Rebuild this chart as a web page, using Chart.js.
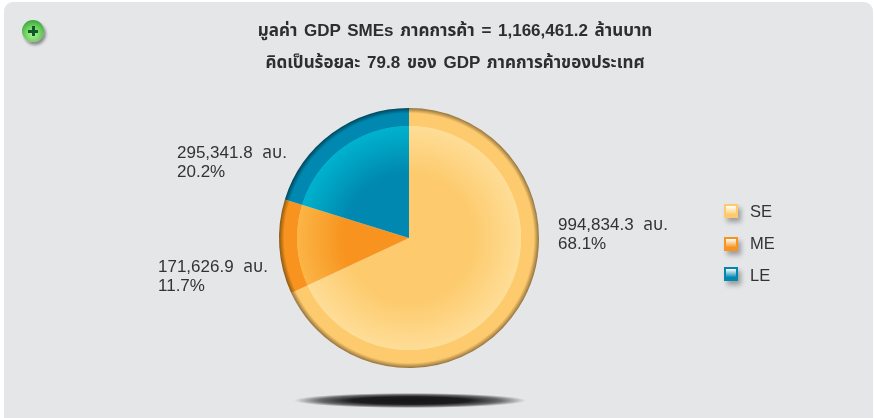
<!DOCTYPE html>
<html lang="th"><head><meta charset="utf-8">
<script src="https://cdn.jsdelivr.net/npm/chart.js@4"></script>
<style>
html,body{margin:0;padding:0;background:#fff;width:874px;height:418px;overflow:hidden}
body{position:relative;font-family:"Liberation Sans","Noto Sans Thai","Noto Sans",sans-serif;color:#333}
#panel{position:absolute;left:4px;top:2px;width:869px;height:440px;background:#e5e6e8;border-radius:9px}
canvas{position:absolute;left:0;top:0}
.t{position:absolute;white-space:nowrap}
.title{font-weight:bold;font-size:17px;word-spacing:2px;line-height:20px;left:155px;width:600px;text-align:center;color:#2e2e2e}
.val{font-size:17px;word-spacing:5px;line-height:19px;color:#333}
.leg{font-size:16.5px;line-height:20px;left:750px;color:#333}
.sw{position:absolute;left:724px;width:10px;height:10px;border:2px solid;box-shadow:3px 4px 5px rgba(0,0,0,.32)}
#shadow{position:absolute;left:294px;top:393px;width:232px;height:15px;background:radial-gradient(closest-side,#151515 0%,#1c1c1e 50%,rgba(40,40,42,.65) 78%,rgba(90,90,90,0) 100%)}
#plus{position:absolute;left:22px;top:20px;width:22px;height:22px;border-radius:50%;background:radial-gradient(circle at 50% 65%,#b5f09c 0%,#6fcf60 45%,#38a53c 80%,#237f2c 100%);box-shadow:2px 3px 3px rgba(0,0,0,.4)}
#plus:before{content:"";position:absolute;left:6px;top:9.5px;width:10px;height:3px;background:#0b5a2a}
#plus:after{content:"";position:absolute;left:9.5px;top:6px;width:3px;height:10px;background:#0b5a2a}
</style></head><body>
<div id="panel"></div>
<div id="shadow"></div>
<canvas id="c" width="874" height="418"></canvas>
<div id="plus"></div>
<div id="texts"></div>
<script>
const titleLines = ["มูลค่า GDP SMEs ภาคการค้า = 1,166,461.2 ล้านบาท","คิดเป็นร้อยละ 79.8 ของ GDP ภาคการค้าของประเทศ"];
const categories = ["SE","ME","LE"];
const values = [994834.3,171626.9,295341.8];
const percents = ["68.1%","11.7%","20.2%"];
const valueUnit = "ลบ.";
const centerColors = ["#fdcb6e","#f7931e","#0088b0"];
const edgeColors = ["#fedd97","#fbb546","#00b2cd"];
const rimColors = ["#94723c","#8a5812","#00465c"];
const labelPos = [[558,215],[158,257],[177,143]];
const legendY = [204,237,267];
const legendTextY = [201,233,265];

function fill(ctx){
  const i = ctx.dataIndex;
  const a = ctx.chart.chartArea;
  if(!a) return centerColors[i];
  const cx=(a.left+a.right)/2, cy=(a.top+a.bottom)/2, R=(a.right-a.left)/2;
  const g = ctx.chart.ctx.createRadialGradient(cx,cy,0,cx,cy,R);
  g.addColorStop(0,centerColors[i]);
  g.addColorStop(0.5,centerColors[i]);
  g.addColorStop(0.86,edgeColors[i]);
  g.addColorStop(0.865,centerColors[i]);
  g.addColorStop(0.96,centerColors[i]);
  g.addColorStop(1,rimColors[i]);
  return g;
}
new Chart(document.getElementById("c"),{
  type:"pie",
  data:{labels:categories,datasets:[{data:values,backgroundColor:fill,borderWidth:0}]},
  options:{responsive:false,animation:false,
    layout:{padding:{left:279,right:335,top:108,bottom:50}},
    plugins:{legend:{display:false},title:{display:false},tooltip:{enabled:false}}}
});
const host=document.getElementById("texts");
function add(cls,top,left,txt){const d=document.createElement("div");d.className=cls;d.style.top=top+"px";if(left!==null)d.style.left=left+"px";d.textContent=txt;host.appendChild(d);return d;}
titleLines.forEach((s,i)=>add("t title",21+i*32,null,s));
categories.forEach((c,i)=>{
  const txt=values[i].toLocaleString("en-US",{minimumFractionDigits:1})+" "+valueUnit;
  add("t val",labelPos[i][1],labelPos[i][0],txt);
  add("t val",labelPos[i][1]+19,labelPos[i][0],percents[i]);
  const s=document.createElement("div");s.className="sw";s.style.top=legendY[i]+"px";
  s.style.borderColor=centerColors[i];
  s.style.background="linear-gradient(#ffffff,"+centerColors[i]+" 85%)";
  host.appendChild(s);
  add("t leg",legendTextY[i],null,c);
});
</script></body></html>
